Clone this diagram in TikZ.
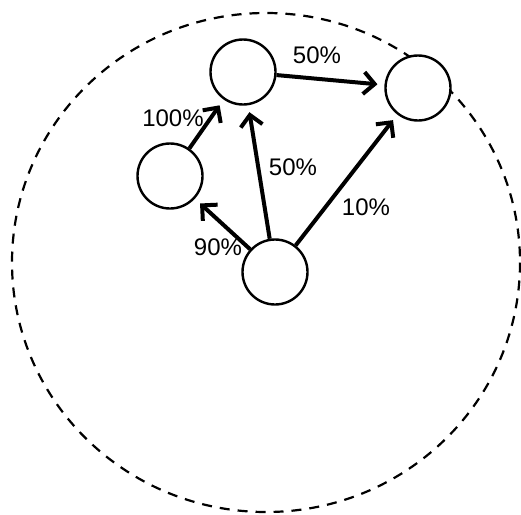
\documentclass[tikz,border=0pt]{standalone}
\usepackage{fontspec}
\setmainfont{Liberation Sans}
\usetikzlibrary{arrows.meta}
\begin{document}
\begin{tikzpicture}[x=1pt,y=-1pt,
  state/.style={circle,draw=black,fill=white,line width=2.4pt,minimum size=65pt,inner sep=0pt},
  flow/.style={line width=4pt,-{Straight Barb[length=11pt,width=22pt]},shorten >=7pt},
  pct/.style={font=\fontsize{24}{24}\selectfont,inner sep=0pt,anchor=center}]
\useasboundingbox (0,0) rectangle (521,514);
\draw[line width=2.2pt,dash pattern=on 10pt off 8pt] (266,262.5) ellipse [x radius=254,y radius=249.5];
\node[state] (A) at (243,72) {};
\node[state] (B) at (418,88) {};
\node[state] (C) at (170,176) {};
\node[state] (D) at (275,272) {};
\draw[flow] (A) -- (B);
\draw[flow] (C) -- (A);
\draw[flow] (D) -- (A);
\draw[flow] (D) -- (C);
\draw[flow] (D) -- (B);
\node[pct] (l1) at (317,55) {50\%};
\node[pct] (l2) at (173,118) {100\%};
\node[pct] (l3) at (293,167) {50\%};
\node[pct] (l4) at (366,207) {10\%};
\node[pct] (l5) at (218,247) {90\%};
\end{tikzpicture}
\end{document}
